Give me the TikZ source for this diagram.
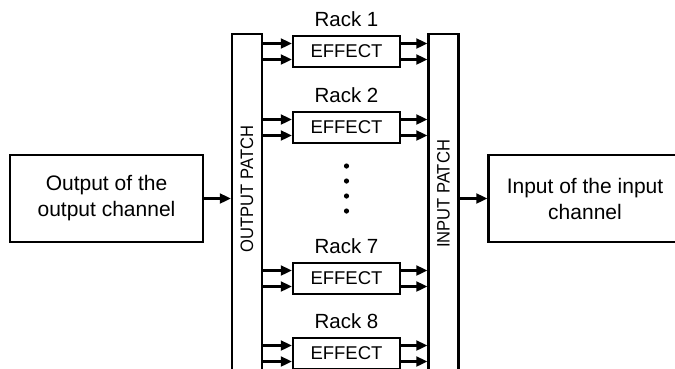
\documentclass[tikz,border=0pt]{standalone}
\usepackage{fontspec}
\setmainfont{Liberation Sans}
\usetikzlibrary{arrows.meta}

\begin{document}
\begin{tikzpicture}[
  x=1pt, y=-1pt, line width=2.4pt,
  sig/.style={line width=2.1pt, -{Triangle[length=11pt,width=10pt]}},
  io/.style={rectangle, draw, minimum width=193pt, minimum height=87pt,
             align=center, font=\fontsize{21}{26}\selectfont},
  patch/.style={rectangle, draw, minimum width=30pt, minimum height=346pt},
  plabel/.style={rotate=90, font=\fontsize{18}{20}\selectfont},
  fx/.style={rectangle, draw, minimum width=107pt, minimum height=31pt,
             inner sep=0pt, font=\fontsize{18.5}{20}\selectfont},
  rack/.style={font=\fontsize{20.5}{22}\selectfont}
]
\useasboundingbox (0,0) rectangle (675,368);
\node[io] (src) at (106.5,198.5) {Output of the\\output channel};
\node[io] (dst) at (585,198.5) {Input of the input\\channel};
\node[patch] (outp) at (247,207) {};
\node[patch] (inp) at (443.5,207) {};
\node[plabel] (outl) at (247,189) {\scalebox{0.92}[1]{OUTPUT PATCH}};
\node[plabel] (inl) at (443.5,194) {\scalebox{0.92}[1]{INPUT PATCH}};
\draw[sig] (src) -- (src -| outp.west);
\draw[sig] (dst -| inp.east) -- (dst);
% effect racks
\foreach \n/\t in {1/36,2/112,7/263,8/338}{
  \node[fx] (fx\n) at (346.5,\t+15.5) {EFFECT};
  \node[rack] (r\n) at (346.5,\t-17) {Rack \n};
  \path (fx\n.west) ++(0,-8) coordinate (fa\n) ++(0,16) coordinate (fb\n);
  \draw[sig] (fa\n -| outp.east) -- (fa\n);
  \draw[sig] (fb\n -| outp.east) -- (fb\n);
  \draw[sig] (fx\n.east |- fa\n) -- (fa\n -| inp.west);
  \draw[sig] (fx\n.east |- fb\n) -- (fb\n -| inp.west);
}
\foreach \y in {166,181,196,211}
  \fill (346.5,\y) circle (2.6);
\end{tikzpicture}
\end{document}
